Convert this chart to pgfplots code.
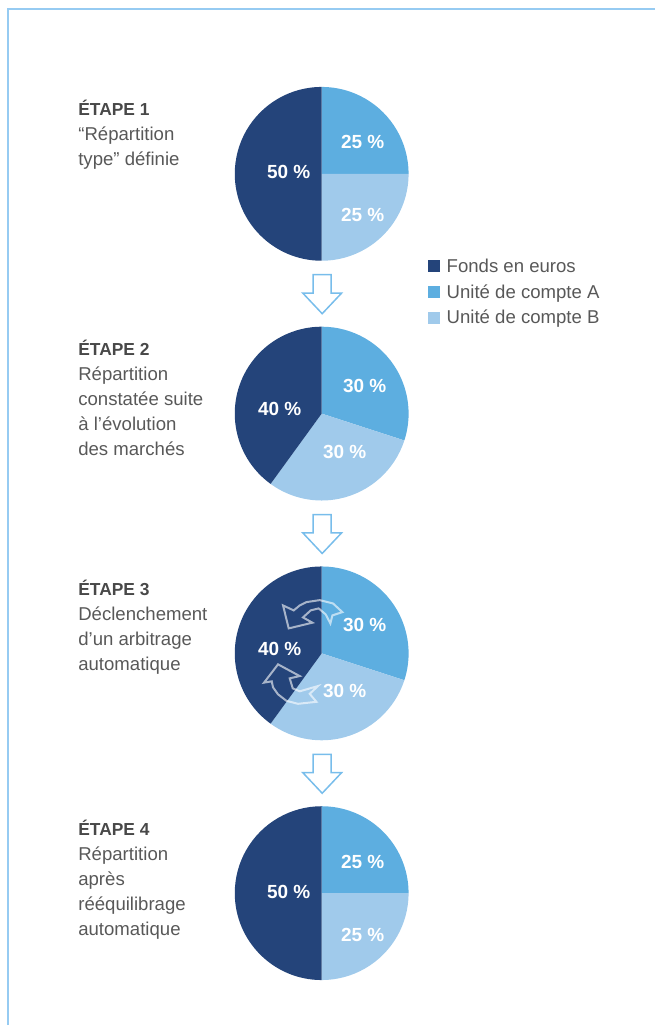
\documentclass[border=0pt]{standalone}
\usepackage{fontspec}
\setmainfont{Liberation Sans}
\usepackage{pgfplots}
\pgfplotsset{compat=1.18}
\definecolor{colF}{RGB}{36,68,122}
\definecolor{colA}{RGB}{93,174,224}
\definecolor{colB}{RGB}{160,202,235}
\definecolor{txt}{RGB}{88,88,88}
\definecolor{ttl}{RGB}{72,72,72}
\definecolor{framec}{RGB}{150,203,242}
\definecolor{arr}{RGB}{120,189,235}
\newcommand\pieR{43.5pt}
% #1 cx, #2 cy (axis units), #3 share A, #4 share B, #5 share Fonds (percent)
\newcommand\pie[5]{%
  \fill[colA] (axis cs:#1,#2) -- ++(90:\pieR) arc[start angle=90, delta angle={-3.6*#3}, radius=\pieR] -- cycle;
  \fill[colB] (axis cs:#1,#2) -- ++({90-3.6*#3}:\pieR) arc[start angle={90-3.6*#3}, delta angle={-3.6*#4}, radius=\pieR] -- cycle;
  \fill[colF] (axis cs:#1,#2) -- ++({90-3.6*(#3+#4)}:\pieR) arc[start angle={90-3.6*(#3+#4)}, delta angle={-3.6*#5}, radius=\pieR] -- cycle;
}
\newcommand\pct[3]{\node[white, font=\bfseries\fontsize{9.5}{11}\selectfont, inner sep=0pt] at (axis cs:#1,#2) {#3~\%};}
\newcommand\ttl[3]{\node[ttl, anchor=base west, inner sep=0pt, font=\bfseries\fontsize{8.7}{10}\selectfont] at (axis cs:#1,#2) {#3};}
\newcommand\txl[3]{\node[txt, anchor=base west, inner sep=0pt, font=\fontsize{9.3}{11}\selectfont] at (axis cs:#1,#2) {#3};}
\begin{document}
\begin{tikzpicture}
\begin{axis}[width=328pt, height=513pt, scale only axis,
  xmin=0, xmax=656, ymin=0, ymax=1026, y dir=reverse,
  hide axis, clip=false]
\path (axis cs:0,0) rectangle (axis cs:656,1026);
% frame
\draw[framec, line width=1pt] (axis cs:8,1026) -- (axis cs:8,9) -- (axis cs:656,9);
% pies: cx, cy, A, B, Fonds
\pie{322}{174}{25}{25}{50}
\pie{322}{414}{30}{30}{40}
\pie{322}{654}{30}{30}{40}
\pie{322}{894}{25}{25}{50}
% labels
\pct{363}{142.5}{25}\pct{363}{215.5}{25}\pct{289}{172.5}{50}
\pct{365}{386}{30}\pct{345}{452}{30}\pct{280}{409.5}{40}
\pct{365}{626}{30}\pct{345}{692}{30}\pct{280}{649.5}{40}
\pct{363}{862.5}{25}\pct{363}{935.5}{25}\pct{289}{892.5}{50}
% curved arrows (step 3)
\draw[white, draw opacity=0.6, line width=1pt, line join=miter]
 (axis cs:289,629) -- (axis cs:283.3,606) -- (axis cs:294,611) -- (axis cs:300,606) -- (axis cs:306.7,602.7) -- (axis cs:320,600.7) -- (axis cs:333.3,604) -- (axis cs:342.7,612.7) -- (axis cs:332.7,616) -- (axis cs:330.7,624) -- (axis cs:326,615) -- (axis cs:319,609) -- (axis cs:311,611) -- (axis cs:303.3,618) -- (axis cs:312.7,623.3) -- cycle;
\draw[white, draw opacity=0.6, line width=1pt, line join=miter]
 (axis cs:278.3,665) -- (axis cs:300,676.7) -- (axis cs:290,679) -- (axis cs:293,689) -- (axis cs:300,692) -- (axis cs:318.3,686.7) -- (axis cs:310,694.5) -- (axis cs:316.7,702.5) -- (axis cs:298.3,704.5) -- (axis cs:286.7,701.5) -- (axis cs:278.3,695) -- (axis cs:273.3,688) -- (axis cs:272,682) -- (axis cs:264.3,683.3) -- cycle;
% down arrows
\draw[arr, line width=0.75pt, line join=miter] (axis cs:313.5,275) -- (axis cs:331.5,275) -- (axis cs:331.5,293.3) -- (axis cs:342,293.3) -- (axis cs:322.5,314) -- (axis cs:303,293.3) -- (axis cs:313.5,293.3) -- cycle;
\draw[arr, line width=0.75pt, line join=miter] (axis cs:313.5,515) -- (axis cs:331.5,515) -- (axis cs:331.5,533.3) -- (axis cs:342,533.3) -- (axis cs:322.5,554) -- (axis cs:303,533.3) -- (axis cs:313.5,533.3) -- cycle;
\draw[arr, line width=0.75pt, line join=miter] (axis cs:313.5,755) -- (axis cs:331.5,755) -- (axis cs:331.5,773.3) -- (axis cs:342,773.3) -- (axis cs:322.5,794) -- (axis cs:303,773.3) -- (axis cs:313.5,773.3) -- cycle;
% legend
\fill[colF] (axis cs:428.3,260.7) rectangle (axis cs:440.7,272.7);
\fill[colA] (axis cs:428.3,286.3) rectangle (axis cs:440.7,298.3);
\fill[colB] (axis cs:428.3,312) rectangle (axis cs:440.7,324);
\txl{446.7}{272.7}{Fonds en euros}
\txl{446.7}{298.3}{Unité de compte A}
\txl{446.7}{324}{Unité de compte B}
% step texts
\ttl{78}{116}{ÉTAPE 1}
\txl{78}{141}{“Répartition}
\txl{78}{166}{type” définie}
\ttl{78}{356}{ÉTAPE 2}
\txl{78}{381}{Répartition}
\txl{78}{406}{constatée suite}
\txl{78}{431}{à l’évolution}
\txl{78}{456}{des marchés}
\ttl{78}{596}{ÉTAPE 3}
\txl{78}{621}{Déclenchement}
\txl{78}{646}{d’un arbitrage}
\txl{78}{671}{automatique}
\ttl{78}{836}{ÉTAPE 4}
\txl{78}{861}{Répartition}
\txl{78}{886}{après}
\txl{78}{911}{rééquilibrage}
\txl{78}{936}{automatique}
\end{axis}
\end{tikzpicture}
\end{document}
